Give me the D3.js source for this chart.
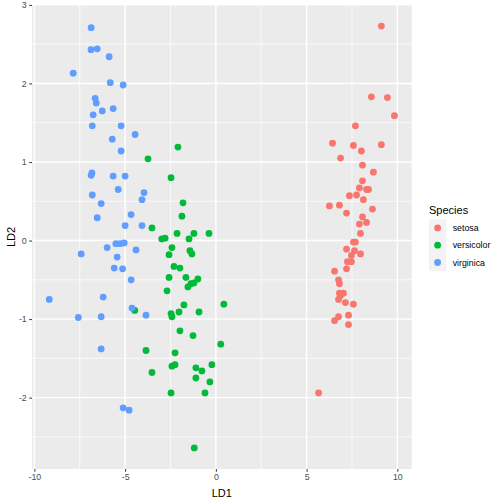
<!DOCTYPE html>
<html><head><meta charset="utf-8">
<script src="https://cdn.jsdelivr.net/npm/d3@7"></script>
<style>body{margin:0;background:#fff}svg{display:block}text{font-family:"Liberation Sans",Arial,sans-serif}</style>
</head><body>
<script>
const species = ["setosa","versicolor","virginica"];
const colors = ["#F8766D","#00BA38","#619CFF"];
const xTicks = [-10,-5,0,5,10];
const yTicks = [-2,-1,0,1,2,3];

const setosaLD1 = [9.12,8.57,9.45,9.84,7.69,6.43,7.58,8.02,9.12,6.87,8.08,8.68,8.08,7.91,8.30,8.41,7.36,7.75,8.13,6.26,6.81,7.20,8.63,8.08,7.91,8.30,7.97,7.58,7.69,7.20,7.64,7.97,7.47,7.25,7.47,7.20,6.54,6.76,6.81,6.81,7.03,6.87,6.76,7.14,7.58,7.31,6.76,6.54,7.31,5.66];
const setosaLD2 = [2.73,1.83,1.82,1.59,1.46,1.24,1.21,1.14,1.22,1.05,0.96,0.87,0.76,0.67,0.65,0.65,0.57,0.58,0.52,0.44,0.45,0.35,0.40,0.30,0.21,0.23,0.09,-0.02,-0.02,-0.11,-0.13,-0.17,-0.19,-0.27,-0.27,-0.36,-0.39,-0.50,-0.55,-0.67,-0.67,-0.70,-0.75,-0.79,-0.81,-0.95,-0.97,-1.02,-1.07,-1.94];

const versicolorLD1 = [-2.09,-3.74,-2.47,-1.81,-1.87,-3.52,-2.98,-2.80,-2.14,-1.48,-1.21,-0.38,-2.42,-2.58,-1.43,-1.32,-2.31,-1.98,-2.58,-1.65,-0.99,-1.21,-1.37,-1.54,-2.69,-4.47,-1.76,0.44,-2.47,-2.42,-2.03,-0.93,-1.98,-1.26,0.27,-3.85,-2.25,-2.42,-2.25,-1.10,-0.77,-0.22,-3.52,-1.10,-0.33,-2.47,-0.60,-1.19];
const versicolorLD2 = [1.19,1.04,0.80,0.48,0.31,0.16,0.02,0.03,0.09,0.02,0.09,0.09,-0.09,-0.18,-0.13,-0.17,-0.33,-0.35,-0.47,-0.47,-0.49,-0.54,-0.55,-0.59,-0.64,-0.89,-0.82,-0.81,-0.93,-0.97,-0.91,-0.91,-1.15,-1.21,-1.32,-1.40,-1.43,-1.60,-1.58,-1.62,-1.66,-1.58,-1.68,-1.75,-1.80,-1.94,-1.94,-2.64];

const virginicaLD1 = [-6.87,-6.88,-6.54,-5.88,-7.86,-5.82,-5.11,-6.65,-6.59,-6.26,-5.66,-6.76,-6.81,-5.22,-4.45,-5.71,-5.22,-6.83,-6.87,-5.66,-5.00,-5.38,-3.96,-6.81,-4.07,-6.32,-4.67,-6.54,-5.00,-4.07,-5.51,-5.27,-5.05,-5.99,-4.40,-7.42,-5.44,-5.60,-5.14,-4.67,-9.18,-6.21,-4.62,-3.85,-7.58,-6.32,-6.32,-5.11,-4.78];
const virginicaLD2 = [2.71,2.43,2.44,2.34,2.13,2.01,1.98,1.81,1.75,1.65,1.68,1.60,1.46,1.46,1.35,1.29,1.14,0.86,0.83,0.82,0.82,0.65,0.61,0.58,0.52,0.47,0.33,0.29,0.19,0.19,-0.04,-0.04,-0.03,-0.09,-0.12,-0.17,-0.21,-0.35,-0.36,-0.50,-0.75,-0.72,-0.86,-0.95,-0.98,-0.97,-1.38,-2.13,-2.16];

const series = [
  {name:"setosa", x:setosaLD1, y:setosaLD2},
  {name:"versicolor", x:versicolorLD1, y:versicolorLD2},
  {name:"virginica", x:virginicaLD1, y:virginicaLD2}
];
const points = [];
series.forEach((s,i)=>s.x.forEach((v,j)=>points.push({sp:s.name, i, x:v, y:s.y[j]})));

const W=504,H=504;
const P={l:32,r:411.7,t:5,b:469};
function expand(ext){const d=(ext[1]-ext[0])*0.05;return [ext[0]-d,ext[1]+d];}
const x=d3.scaleLinear().domain(expand(d3.extent(points,d=>d.x))).range([P.l,P.r]);
const y=d3.scaleLinear().domain(expand(d3.extent(points,d=>d.y))).range([P.b,P.t]);

const svg=d3.select("body").append("svg").attr("width",W).attr("height",H);
svg.append("rect").attr("width",W).attr("height",H).attr("fill","#fff");
svg.append("rect").attr("x",P.l).attr("y",P.t).attr("width",P.r-P.l).attr("height",P.b-P.t).attr("fill","#EBEBEB");

const g=svg.append("g");
const xMinor=[-7.5,-2.5,2.5,7.5];
const yMinor=[-2.5,-1.5,-0.5,0.5,1.5,2.5];
g.selectAll(".xm").data(xMinor).join("line").attr("x1",d=>x(d)).attr("x2",d=>x(d)).attr("y1",P.t).attr("y2",P.b).attr("stroke","#fff").attr("stroke-width",0.7);
g.selectAll(".ym").data(yMinor).join("line").attr("y1",d=>y(d)).attr("y2",d=>y(d)).attr("x1",P.l).attr("x2",P.r).attr("stroke","#fff").attr("stroke-width",0.7);
g.selectAll(".xM").data(xTicks).join("line").attr("x1",d=>x(d)).attr("x2",d=>x(d)).attr("y1",P.t).attr("y2",P.b).attr("stroke","#fff").attr("stroke-width",1.4);
g.selectAll(".yM").data(yTicks).join("line").attr("y1",d=>y(d)).attr("y2",d=>y(d)).attr("x1",P.l).attr("x2",P.r).attr("stroke","#fff").attr("stroke-width",1.4);

svg.append("g").selectAll("circle").data(points).join("circle")
  .attr("cx",d=>x(d.x)).attr("cy",d=>y(d.y)).attr("r",3.4).attr("fill",d=>colors[d.i]);

// axes
const fmt = d=>String(d);
const xa=svg.append("g").attr("transform",`translate(0,${P.b})`).call(d3.axisBottom(x).tickValues(xTicks).tickFormat(fmt).tickSize(2.75).tickPadding(2.5));
const ya=svg.append("g").attr("transform",`translate(${P.l},0)`).call(d3.axisLeft(y).tickValues(yTicks).tickFormat(fmt).tickSize(2.75).tickPadding(2.5));
[xa,ya].forEach(a=>{a.select(".domain").remove();a.selectAll(".tick line").attr("stroke","#333").attr("stroke-width",1);
  a.selectAll(".tick text").attr("fill","#4D4D4D").style("font-size","8.8px").style("font-family",'"Liberation Sans",Arial,sans-serif');});

svg.append("text").attr("x",(P.l+P.r)/2).attr("y",496.5).attr("text-anchor","middle").style("font-size","11px").attr("fill","#000").text("LD1");
svg.append("text").attr("transform",`translate(14.7,${(P.t+P.b)/2}) rotate(-90)`).attr("text-anchor","middle").style("font-size","11px").attr("fill","#000").text("LD2");

// legend
const lg=svg.append("g");
lg.append("text").attr("x",429).attr("y",213.5).style("font-size","11px").attr("fill","#000").text("Species");
const ks=17.28, ky0=219.3;
species.forEach((s,i)=>{
  lg.append("rect").attr("x",429).attr("y",ky0+i*ks).attr("width",ks).attr("height",ks).attr("fill","#F2F2F2");
  lg.append("circle").attr("cx",429+ks/2).attr("cy",ky0+i*ks+ks/2).attr("r",3.4).attr("fill",colors[i]);
  lg.append("text").attr("x",452.7).attr("y",ky0+i*ks+ks/2+3.2).style("font-size","8.8px").attr("fill","#000").text(s);
});
</script>
</body></html>
